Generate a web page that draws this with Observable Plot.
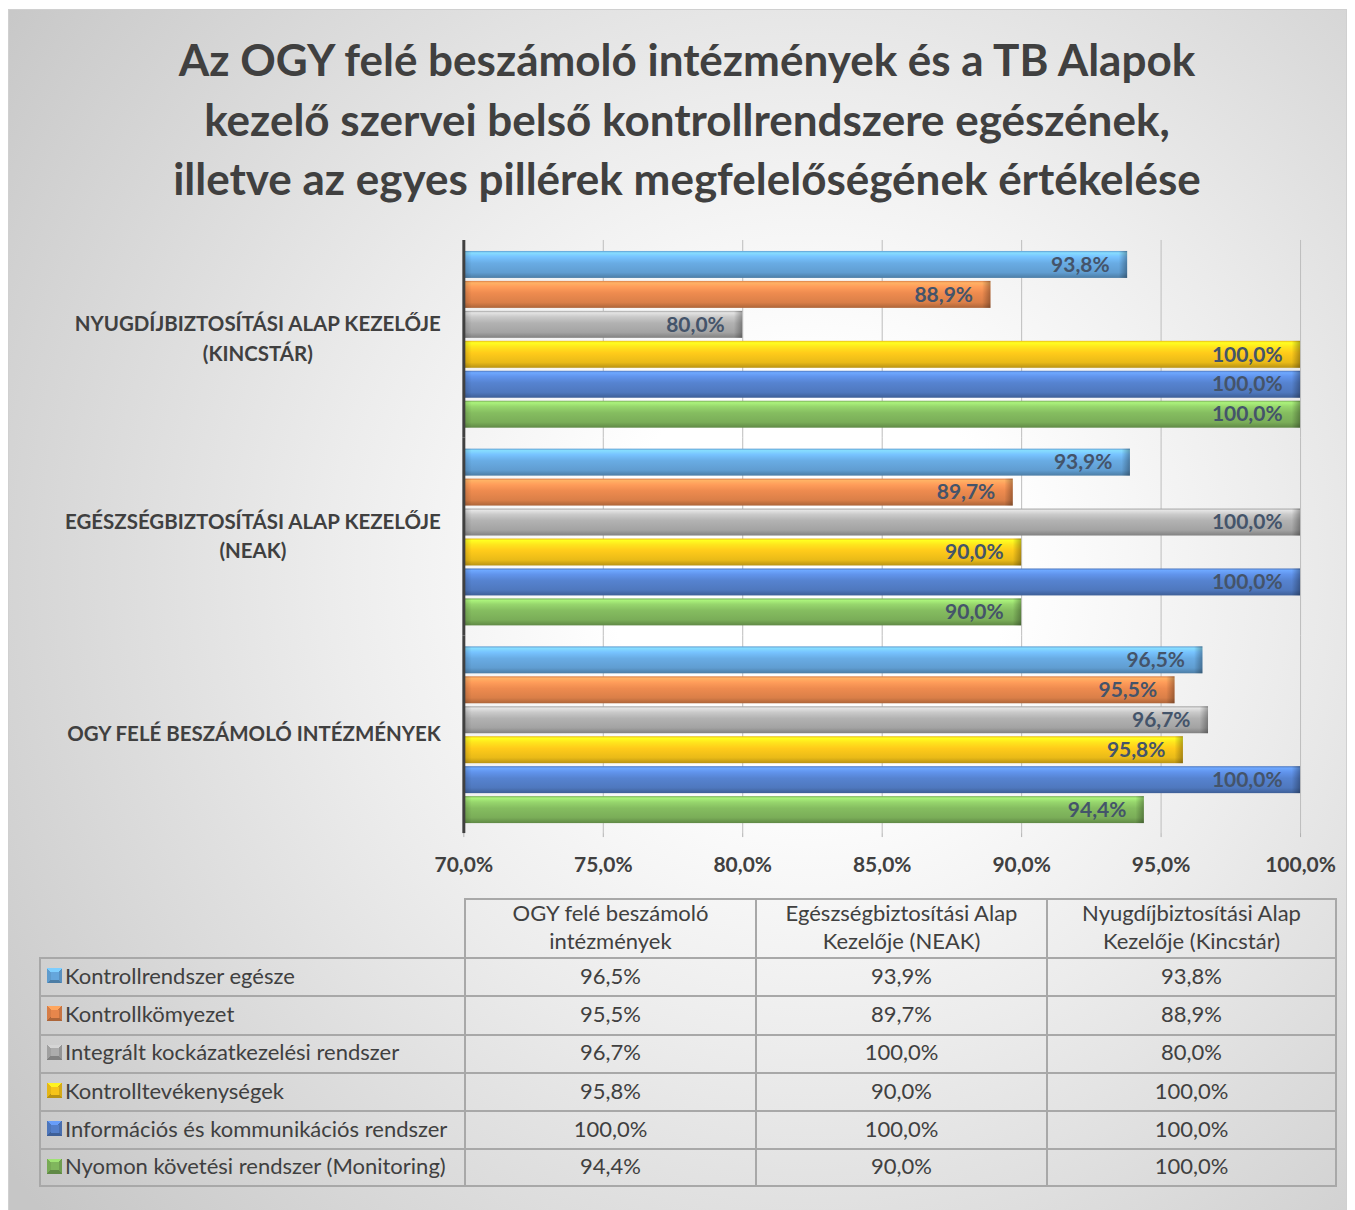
<!DOCTYPE html>
<html>
<head>
<meta charset="utf-8">
<script src="https://cdn.jsdelivr.net/npm/d3@7"></script>
<script src="https://cdn.jsdelivr.net/npm/@observablehq/plot@0.6"></script>
<style>
  body { margin: 0; background: #ffffff; }
  #chart {
    position: absolute; left: 8px; top: 9px; width: 1339px; height: 1201px; overflow: hidden;
    box-sizing: border-box; border: 1px solid #d0d0d0; border-bottom: none;
    background: radial-gradient(circle at 800px 560px, #ffffff 0px, #ffffff 200px, #ececec 480px, #d6d6d6 780px, #c6c6c6 1000px);
    font-family: Lato, "Open Sans", sans-serif; color: #404040;
  }
  #title {
    position: absolute; left: 19px; right: 0; top: 20px; text-align: center;
    font-weight: bold; font-size: 44px; line-height: 59.5px; color: #404040; white-space: pre;
  }
  #plot { position: absolute; left: 0; top: 215px; }
  #table {
    position: absolute; left: 30px; top: 888px; display: grid;
    grid-template-columns: 425px 291px 291px 291px;
    grid-template-rows: 59px repeat(6, 38.3px);
    font-size: 22px; color: #404040;
  }
  .cell { box-sizing: border-box; border-left: 2px solid #a8a8a8; border-top: 2px solid #a8a8a8;
          display: flex; align-items: center; justify-content: center; text-align: center; white-space: pre; line-height: 28px;
          padding-bottom: 3px; }
  .cell.last { border-right: 2px solid #a8a8a8; }
  .cell.bottom { border-bottom: 2px solid #a8a8a8; }
  .cell.blank { border: none; }
  .cell.rowlabel { justify-content: flex-start; padding-left: 6px; }
  .key { display: inline-block; width: 15px; height: 15px; margin-right: 3px; flex: none; box-sizing: border-box; }
</style>
</head>
<body>
<div id="chart">
  <div id="title"></div>
  <div id="plot"></div>
  <div id="table"></div>
</div>
<script>
// ---------- data ----------
const titleLines = [
  "Az OGY felé beszámoló intézmények és a TB Alapok",
  "kezelő szervei belső kontrollrendszere egészének,",
  "illetve az egyes pillérek megfelelőségének értékelése"
];
// groups in table order (left to right)
const groups = [
  "OGY felé beszámoló intézmények",
  "Egészségbiztosítási Alap Kezelője (NEAK)",
  "Nyugdíjbiztosítási Alap Kezelője (Kincstár)"
];
const groupTableLabels = [
  "OGY felé beszámoló\nintézmények",
  "Egészségbiztosítási Alap\nKezelője (NEAK)",
  "Nyugdíjbiztosítási Alap\nKezelője (Kincstár)"
];
const groupChartLabels = [
  "OGY FELÉ BESZÁMOLÓ INTÉZMÉNYEK",
  "EGÉSZSÉGBIZTOSÍTÁSI ALAP KEZELŐJE\n(NEAK)",
  "NYUGDÍJBIZTOSÍTÁSI ALAP KEZELŐJE\n(KINCSTÁR)"
];
const series = [
  "Kontrollrendszer egésze",
  "Kontrollkömyezet",
  "Integrált kockázatkezelési rendszer",
  "Kontrolltevékenységek",
  "Információs és kommunikációs rendszer",
  "Nyomon követési rendszer (Monitoring)"
];
const seriesColors = ["#69ace4", "#ee8b4f", "#b2b2b2", "#ffcb1a", "#5683d0", "#85bd60"];
const valuesOGY      = [96.5, 95.5, 96.7, 95.8, 100.0, 94.4];
const valuesNEAK     = [93.9, 89.7, 100.0, 90.0, 100.0, 90.0];
const valuesKincstar = [93.8, 88.9, 80.0, 100.0, 100.0, 100.0];
const xTicks = [70, 75, 80, 85, 90, 95, 100];
const xMin = 70, xMax = 100;

// ---------- build ----------
const fmt = v => v.toFixed(1).replace(".", ",") + "%";
const valuesByGroup = [valuesOGY, valuesNEAK, valuesKincstar];
const data = [];
groups.forEach((g, gi) => series.forEach((s, si) => data.push({group: g, series: s, value: valuesByGroup[gi][si]})));

document.getElementById("title").textContent = titleLines.join("\n");

function defsMark() {
  const defs = d3.create("svg:defs");
  seriesColors.forEach((c, i) => {
    const base = d3.color(c);
    const lg = defs.append("linearGradient").attr("id", "grad" + i).attr("x1", 0).attr("y1", 0).attr("x2", 0).attr("y2", 1);
    [[0, base.darker(0.25)], [0.07, base.brighter(0.7)], [0.22, base.brighter(0.35)], [0.45, base],
     [0.8, base.darker(0.25)], [1, base.darker(0.9)]].forEach(([o, col]) =>
      lg.append("stop").attr("offset", o).attr("stop-color", col.formatHex()));
  });
  const br = defs.append("linearGradient").attr("id", "bevelR").attr("x1", 0).attr("y1", 0).attr("x2", 1).attr("y2", 0);
  br.append("stop").attr("offset", 0).attr("stop-color", "#000").attr("stop-opacity", 0);
  br.append("stop").attr("offset", 1).attr("stop-color", "#000").attr("stop-opacity", 0.3);
  const bl = defs.append("linearGradient").attr("id", "bevelL").attr("x1", 0).attr("y1", 0).attr("x2", 1).attr("y2", 0);
  bl.append("stop").attr("offset", 0).attr("stop-color", "#000").attr("stop-opacity", 0.18);
  bl.append("stop").attr("offset", 1).attr("stop-color", "#000").attr("stop-opacity", 0);
  return defs.node();
}

const chart = Plot.plot({
  width: 1339,
  height: 660,
  marginTop: 14,
  marginBottom: 51,
  marginLeft: 455,
  marginRight: 46,
  style: {fontFamily: "Lato, 'Open Sans', sans-serif", background: "transparent", color: "#404040"},
  x: {domain: [xMin, xMax], axis: null},
  y: {domain: series, paddingInner: 0.1, paddingOuter: 0.33, axis: null},
  fy: {domain: groups.slice().reverse(), padding: 0, axis: null},
  color: {domain: series, range: series.map((s, i) => `url(#grad${i})`)},
  marks: [
    defsMark,
    Plot.gridX({ticks: xTicks.slice(1), stroke: "#bdbdbd", strokeOpacity: 1, strokeWidth: 1}),
    Plot.axisX({ticks: xTicks, tickFormat: fmt, tickSize: 4, tickPadding: 20, fontSize: 21, fontWeight: "bold",
                fill: "#404040", stroke: "#b0b0b0", label: null}),
    Plot.barX(data, {x1: () => xMin, x2: "value", y: "series", fy: "group", fill: "series"}),
    Plot.barX(data, {x1: d => d.value - 0.3, x2: "value", y: "series", fy: "group", fill: "url(#bevelR)"}),
    Plot.barX(data, {x1: () => xMin, x2: () => xMin + 0.3, y: "series", fy: "group", fill: "url(#bevelL)"}),
    Plot.ruleX([xMin], {stroke: "#404040", strokeWidth: 3}),
    Plot.text(data, {x: "value", y: "series", fy: "group", text: d => fmt(d.value), textAnchor: "end", dx: -18,
                     fill: "#44546a", fontWeight: "bold", fontSize: 21}),
    Plot.text(groups, {fy: d => d, text: (d, i) => groupChartLabels[i], frameAnchor: "left", dx: -23, dy: -3,
                       textAnchor: "end", lineHeight: 1.45, fontSize: 20.5, fontWeight: "bold", fill: "#404040"})
  ]
});
document.getElementById("plot").append(chart);

// center multi-line group labels within their block (Excel style)
chart.querySelectorAll("text").forEach(t => {
  const spans = t.querySelectorAll("tspan");
  if (spans.length < 2) return;
  const w = Math.max(...Array.from(spans, s => s.getComputedTextLength()));
  t.setAttribute("text-anchor", "middle");
  t.style.textAnchor = "middle";
  spans.forEach(s => { s.setAttribute("x", -w / 2); s.setAttribute("text-anchor", "middle"); });
});

// ---------- data table ----------
const table = document.getElementById("table");
function cell(content, cls) {
  const d = document.createElement("div");
  d.className = "cell " + cls;
  if (typeof content === "string") d.textContent = content; else d.append(...content);
  table.append(d);
}
cell("", "blank");
groupTableLabels.forEach((g, i) => cell(g, i === 2 ? "last" : ""));
series.forEach((s, si) => {
  const bottom = si === series.length - 1 ? " bottom" : "";
  const c = d3.color(seriesColors[si]);
  const key = document.createElement("span");
  key.className = "key";
  key.style.background = `linear-gradient(${c.darker(0.1).formatHex()}, ${c.darker(0.1).formatHex()}) center / 8px 8px no-repeat, ` +
    `conic-gradient(from -45deg, ${c.brighter(0.5).formatHex()} 0 25%, ${c.darker(0.5).formatHex()} 25% 50%, ` +
    `${c.darker(0.9).formatHex()} 50% 75%, ${c.darker(0.3).formatHex()} 75% 100%)`;
  const lab = document.createElement("span");
  lab.textContent = s;
  cell([key, lab], "rowlabel" + bottom);
  valuesByGroup.forEach((vals, gi) => cell(fmt(vals[si]), (gi === 2 ? "last" : "") + bottom));
});
</script>
</body>
</html>
